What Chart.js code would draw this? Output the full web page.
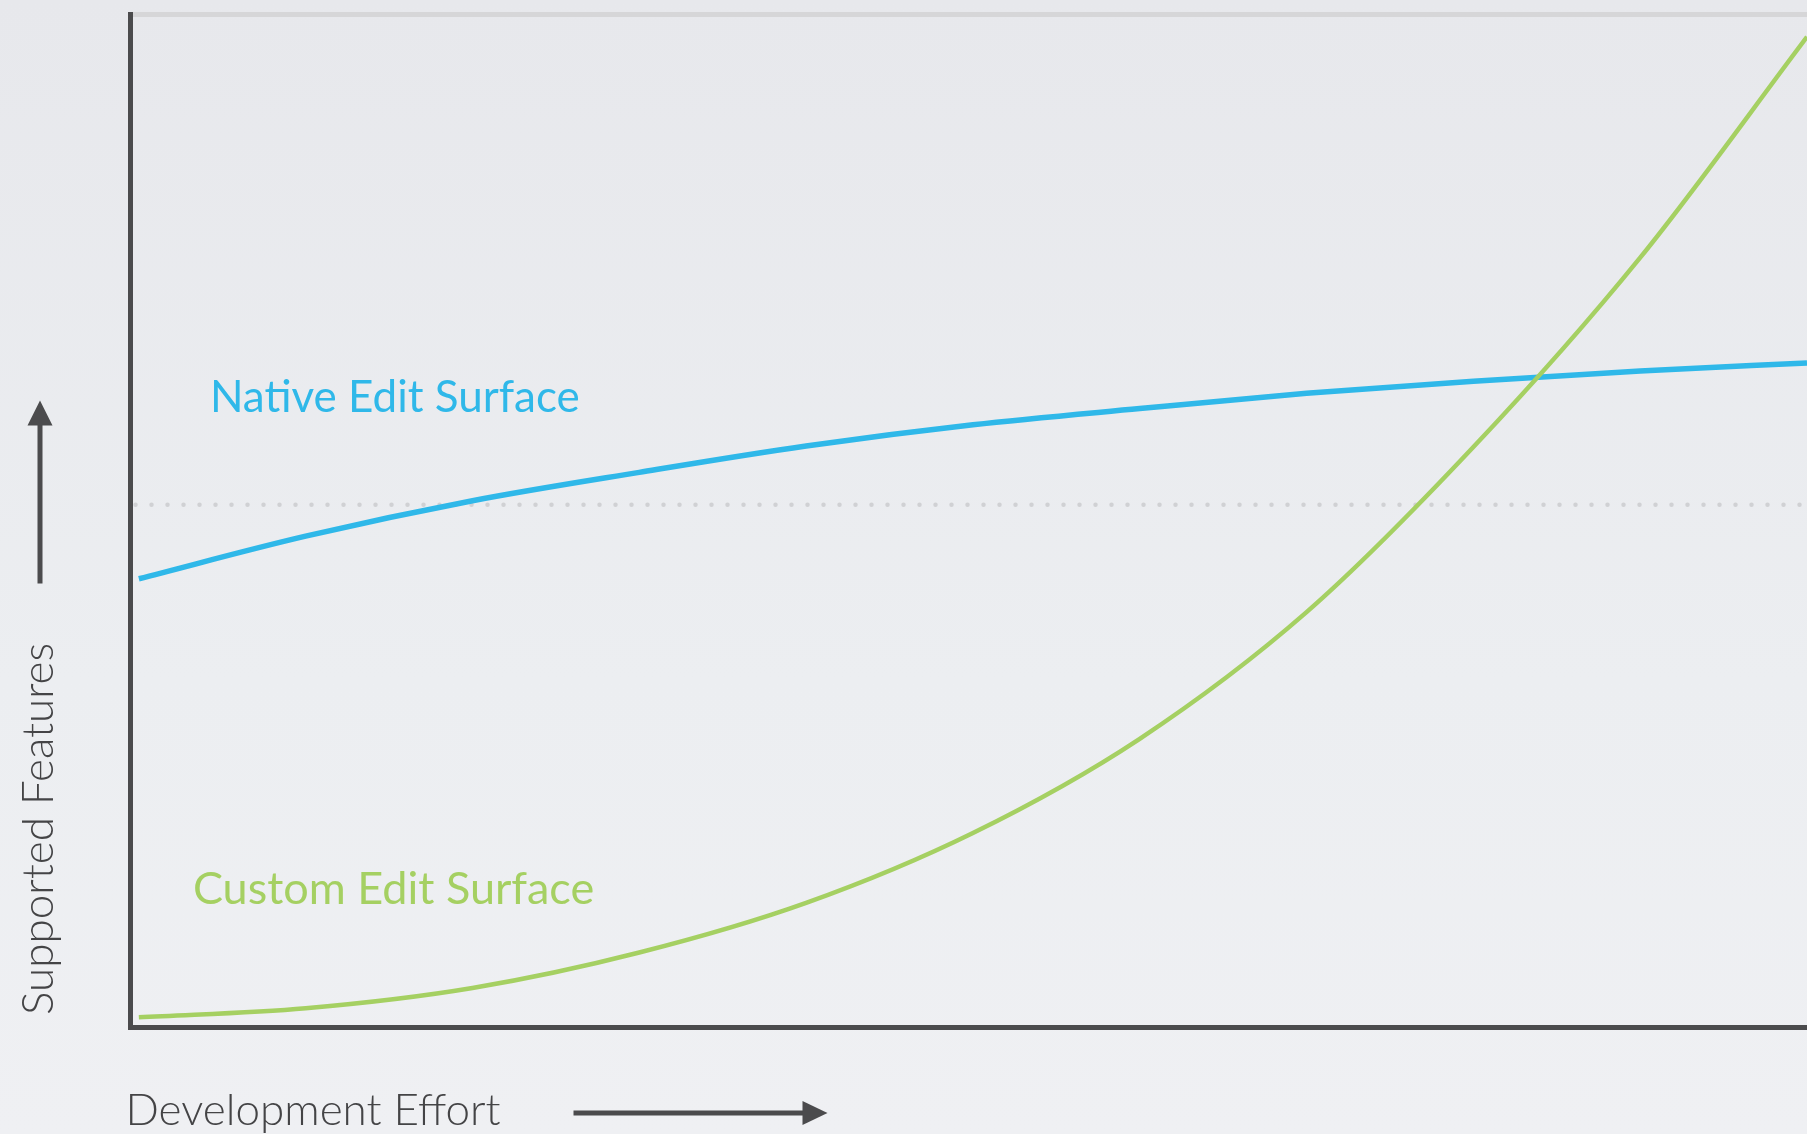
<!DOCTYPE html>
<html>
<head>
<meta charset="utf-8">
<title>Supported Features vs Development Effort</title>
<script src="https://cdn.jsdelivr.net/npm/chart.js@4.4.1/dist/chart.umd.min.js"></script>
<style>
  html, body { margin: 0; padding: 0; }
  body { width: 1807px; height: 1134px; overflow: hidden; background: linear-gradient(180deg, #e7e8ec 0%, #eceef1 60%, #eff0f3 100%); }
  #wrap { position: relative; width: 1807px; height: 1134px; }
</style>
</head>
<body>
<div id="wrap"><canvas id="effortChart"></canvas></div>
<script>
// values: x = development effort, y = supported features (0-100, no units)
const effortSteps     = [0, 10, 20, 30, 40, 50, 60, 70, 80, 90, 100];
const nativeFeatures  = [44.3, 48.5, 52.0, 54.8, 57.4, 59.5, 61.1, 62.6, 63.8, 64.8, 65.6];
const customFeatures  = [1.0, 1.9, 3.9, 7.4, 12.3, 19.2, 28.5, 41.0, 57.3, 76.0, 97.8];
const referenceEffort = [-0.2, 100];
const referenceLevel  = [51.6, 51.6];

const seriesNames = ['Native Edit Surface', 'Custom Edit Surface'];
const xTitle = 'Development Effort';
const yTitle = 'Supported Features';

const BLUE = '#2fb8e9';
const GREEN = '#a5d062';
const AXIS = '#4b4b4d';
const FONT = '"Lato", "Open Sans", sans-serif';

const toPoints = (xs, ys) => xs.map((x, i) => ({ x: x, y: ys[i] }));

// where the series names sit, in data units
const labelAnchors = [
  { text: seriesNames[0], x: 4.26, y: 60.8, color: BLUE, size: 44 },
  { text: seriesNames[1], x: 3.24, y: 12.2, color: GREEN, size: 45 }
];

const sketchText = {
  id: 'sketchText',
  afterDatasetsDraw(chart) {
    const { ctx, scales: { x, y } } = chart;
    ctx.save();
    ctx.textBaseline = 'alphabetic';
    labelAnchors.forEach(l => {
      ctx.font = '400 ' + l.size + 'px ' + FONT;
      ctx.fillStyle = l.color;
      ctx.fillText(l.text, x.getPixelForValue(l.x), y.getPixelForValue(l.y));
    });
    ctx.restore();
  },
  afterDraw(chart) {
    const { ctx, chartArea: a } = chart;
    ctx.save();
    ctx.fillStyle = '#444446';
    ctx.strokeStyle = AXIS;
    ctx.lineWidth = 5;
    ctx.font = '300 44px ' + FONT;

    // x title + arrow
    ctx.fillText(xTitle, a.left - 5, a.bottom + 97.5);
    const ay = a.bottom + 85.5;
    ctx.beginPath(); ctx.moveTo(a.left + 443, ay); ctx.lineTo(a.left + 680, ay); ctx.stroke();
    ctx.fillStyle = AXIS;
    ctx.beginPath(); ctx.moveTo(a.left + 697, ay); ctx.lineTo(a.left + 672, ay - 12); ctx.lineTo(a.left + 672, ay + 12); ctx.closePath(); ctx.fill();

    // y title (rotated) + arrow
    ctx.fillStyle = '#444446';
    ctx.save();
    ctx.translate(a.left - 77.5, a.bottom - 12.5);
    ctx.rotate(-Math.PI / 2);
    ctx.fillText(yTitle, 0, 0);
    ctx.restore();
    const ax = a.left - 90.5;
    ctx.beginPath(); ctx.moveTo(ax, a.bottom - 444); ctx.lineTo(ax, a.bottom - 615); ctx.stroke();
    ctx.fillStyle = AXIS;
    ctx.beginPath(); ctx.moveTo(ax, a.bottom - 627); ctx.lineTo(ax - 12.5, a.bottom - 602); ctx.lineTo(ax + 12.5, a.bottom - 602); ctx.closePath(); ctx.fill();
    ctx.restore();
  }
};

new Chart(document.getElementById('effortChart').getContext('2d'), {
  type: 'line',
  data: {
    datasets: [
      { label: 'reference', data: toPoints(referenceEffort, referenceLevel), borderColor: '#d0d1d4', borderWidth: 4.5, borderDash: [0, 16], borderCapStyle: 'round', pointRadius: 0, order: 3 },
      { label: seriesNames[0], data: toPoints(effortSteps, nativeFeatures), borderColor: BLUE, borderWidth: 5.5, cubicInterpolationMode: 'monotone', pointRadius: 0, order: 2 },
      { label: seriesNames[1], data: toPoints(effortSteps, customFeatures), borderColor: GREEN, borderWidth: 4.5, cubicInterpolationMode: 'monotone', pointRadius: 0, order: 1 }
    ]
  },
  options: {
    responsive: true,
    maintainAspectRatio: false,
    animation: false,
    layout: { padding: { left: 130.5, right: 0, top: 14.5, bottom: 106.5 } },
    plugins: { legend: { display: false }, tooltip: { enabled: false } },
    scales: {
      x: { type: 'linear', min: -0.5, max: 100, ticks: { display: false }, grid: { display: false, drawTicks: false }, border: { display: true, color: AXIS, width: 5 } },
      xTop: { type: 'linear', position: 'top', min: -0.5, max: 100, ticks: { display: false }, grid: { display: false, drawTicks: false }, border: { display: true, color: '#d6d6d8', width: 5 } },
      y: { type: 'linear', min: 0, max: 100, ticks: { display: false }, grid: { display: false, drawTicks: false }, border: { display: true, color: AXIS, width: 5 } }
    }
  },
  plugins: [sketchText]
});
</script>
</body>
</html>
